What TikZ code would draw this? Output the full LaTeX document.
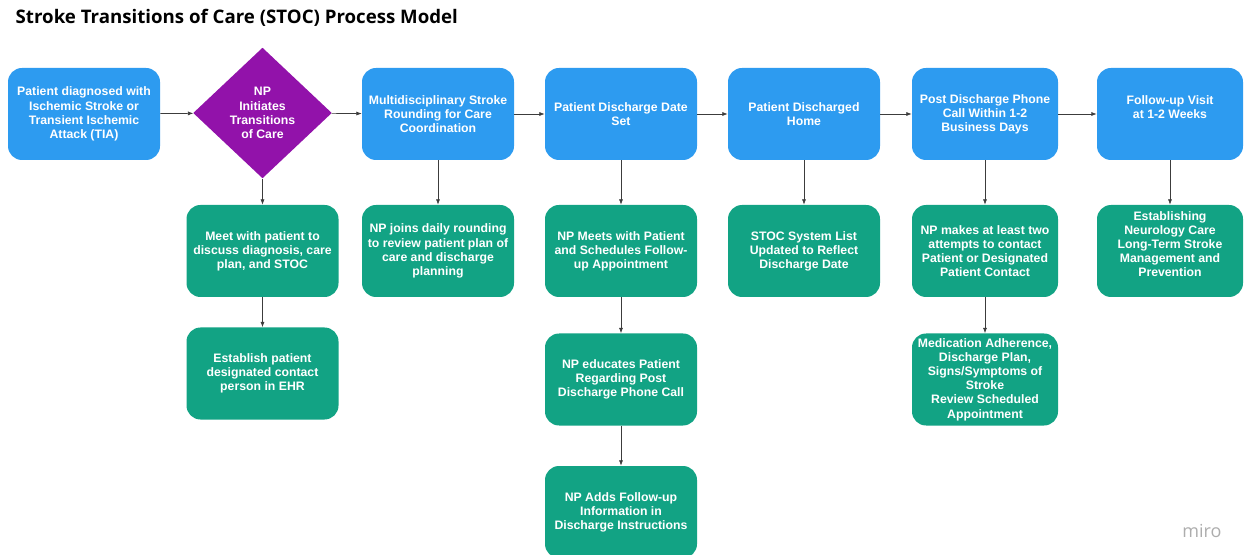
\documentclass[tikz,border=0pt]{standalone}
\usepackage{fontspec}
\setmainfont{Liberation Sans}
\newfontfamily\headfont{Open Sans}
\usetikzlibrary{shapes.geometric,arrows.meta}

\definecolor{stepblue}{RGB}{45,155,240}
\definecolor{stepgreen}{RGB}{18,163,132}
\definecolor{npviolet}{RGB}{146,18,170}
\definecolor{linkgray}{RGB}{60,60,60}

\tikzset{
    box/.style={rounded corners=10.5pt, minimum width=114pt, minimum height=69pt,
        inner sep=0pt, align=center, text=white,
        font=\fontsize{9.2}{10.6}\selectfont\bfseries},
    bluebox/.style={box, fill=stepblue},
    greenbox/.style={box, fill=stepgreen},
    narrow/.style={minimum width=109.5pt},
    decision/.style={diamond, fill=npviolet, minimum width=104pt, minimum height=98pt,
        inner sep=0pt, align=center, text=white,
        font=\fontsize{9.2}{10.6}\selectfont\bfseries},
    link/.style={draw=linkgray, line width=0.5pt, -{Latex[length=4pt,width=3pt]}},
}

\begin{document}
\begin{tikzpicture}[x=0.75pt, y=-0.75pt]
    \useasboundingbox (0,0) rectangle (1244,555);

    \node[anchor=base west, font=\headfont\bfseries\fontsize{14}{16}\selectfont] (title) at (11,24)
        {Stroke Transitions of Care (STOC) Process Model};

    % main row
    \node[bluebox] (diag) at (84,114) {Patient diagnosed with\\Ischemic Stroke or\\Transient Ischemic\\Attack (TIA)};
    \node[decision] (np) at (262.5,113) {NP\\Initiates\\Transitions\\of Care};
    \node[bluebox] (round) at (438,114) {Multidisciplinary Stroke\\Rounding for Care\\Coordination};
    \node[bluebox] (date) at (621,114) {Patient Discharge Date\\Set};
    \node[bluebox] (home) at (804,114) {Patient Discharged\\Home};
    \node[bluebox, narrow] (call) at (985,114) {Post Discharge Phone\\Call Within 1-2\\Business Days};
    \node[bluebox, narrow] (visit) at (1170,114) {Follow-up Visit\\at 1-2 Weeks\\~};

    % second row
    \node[greenbox] (meet) at (262.5,251) {Meet with patient to\\discuss diagnosis, care\\plan, and STOC};
    \node[greenbox] (joins) at (438,251) {NP joins daily rounding\\to review patient plan of\\care and discharge\\planning};
    \node[greenbox] (sched) at (621,251) {NP Meets with Patient\\and Schedules Follow-\\up Appointment};
    \node[greenbox] (list) at (804,251) {STOC System List\\Updated to Reflect\\Discharge Date};
    \node[greenbox, narrow] (tries) at (985,251) {NP makes at least two\\attempts to contact\\Patient or Designated\\Patient Contact};
    \node[greenbox, narrow] (neuro) at (1170,251) {Establishing\\Neurology Care\\Long-Term Stroke\\Management and\\Prevention\\~};

    % third and fourth row
    \node[greenbox] (ehr) at (262.5,373.5) {Establish patient\\designated contact\\person in EHR};
    \node[greenbox] (educ) at (621,379.5) {NP educates Patient\\Regarding Post\\Discharge Phone Call};
    \node[greenbox, narrow] (review) at (985,379.5) {Medication Adherence,\\Discharge Plan,\\Signs/Symptoms of\\Stroke\\Review Scheduled\\Appointment};
    \node[greenbox] (instr) at (621,512) {NP Adds Follow-up\\Information in\\Discharge Instructions};

    \node[text=black!32, font=\headfont\fontsize{13.5}{15}\selectfont] (miro) at (1202,531) {miro};

    \draw[link] (diag) -- (np);
    \draw[link] (np) -- (round);
    \draw[link] (round) -- (date);
    \draw[link] (date) -- (home);
    \draw[link] (home) -- (call);
    \draw[link] (call) -- (visit);

    \draw[link] (np) -- (meet);
    \draw[link] (meet) -- (ehr);
    \draw[link] (round) -- (joins);
    \draw[link] (date) -- (sched);
    \draw[link] (sched) -- (educ);
    \draw[link] (educ) -- (instr);
    \draw[link] (home) -- (list);
    \draw[link] (call) -- (tries);
    \draw[link] (tries) -- (review);
    \draw[link] (visit) -- (neuro);
\end{tikzpicture}
\end{document}
